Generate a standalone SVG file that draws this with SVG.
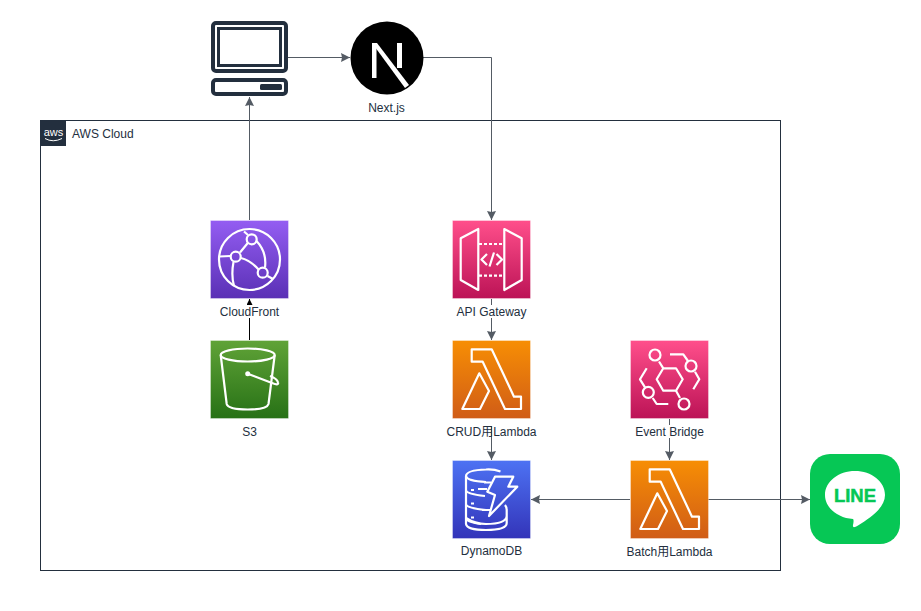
<svg xmlns="http://www.w3.org/2000/svg" xmlns:xlink="http://www.w3.org/1999/xlink" width="921" height="611" viewBox="0 0 921 611">
<style>
text{font-family:"Liberation Sans",Arial,"Noto Sans CJK JP",sans-serif;font-size:12px;fill:#232F3E;text-anchor:middle}
.ln{fill:none;stroke:#545B64;stroke-width:1}
.ic{fill:none;stroke:#fff;stroke-width:2.200;stroke-linejoin:round}
.tile{stroke:#fff;stroke-opacity:.35;stroke-width:1}
.pc{fill:none;stroke:#232F3E;stroke-width:4}
</style>
<defs>
<linearGradient id="gPurple" x1="0" y1="0" x2="0" y2="1"><stop offset="0" stop-color="#945DF2"/><stop offset="1" stop-color="#5A30B5"/></linearGradient>
<linearGradient id="gGreen" x1="0" y1="0" x2="0" y2="1"><stop offset="0" stop-color="#60A337"/><stop offset="1" stop-color="#277116"/></linearGradient>
<linearGradient id="gPink" x1="0" y1="0" x2="0" y2="1"><stop offset="0" stop-color="#FF4F8B"/><stop offset="1" stop-color="#BC1356"/></linearGradient>
<linearGradient id="gOrange" x1="0" y1="0" x2="0" y2="1"><stop offset="0" stop-color="#F78E04"/><stop offset="1" stop-color="#D05C17"/></linearGradient>
<linearGradient id="gBlue" x1="0" y1="0" x2="0" y2="1"><stop offset="0" stop-color="#4D72F3"/><stop offset="1" stop-color="#3334B9"/></linearGradient>
<marker id="arrow" viewBox="0 0 9 9" refX="9" refY="4.500" markerWidth="9" markerHeight="9" markerUnits="userSpaceOnUse" orient="auto"><path d="M0 0L9 4.500L0 9L1 4.500Z" fill="#545B64"/></marker>
<marker id="arrowB" viewBox="0 0 6 6" refX="6" refY="3" markerWidth="6" markerHeight="6" markerUnits="userSpaceOnUse" orient="auto"><path d="M0 0L6 3L0 6Z" fill="#000"/></marker>
<g id="lambdaIcon"><rect class="tile" x=".5" y=".5" width="78" height="78" fill="url(#gOrange)"/><path class="ic" d="M19.700 9.300H39.700L62 56.700H69V69H53L30.700 21.700H19.700Z"/><path class="ic" d="M27.300 33.300L37 51L28 69H10.300Z"/></g>
</defs>
<rect width="921" height="611" fill="#fff"/>

<g id="aws-cloud">
<rect x="40.500" y="120.500" width="740" height="450" fill="none" stroke="#232F3E"/>
<rect x="41" y="121" width="25" height="25" fill="#232F3E"/>
<text x="53.500" y="135.500" style="font-size:11px;fill:#fff">aws</text>
<path d="M45 138.500Q53 143 62 138.500" fill="none" stroke="#fff"/>
<text x="72" y="138" style="text-anchor:start">AWS Cloud</text>
</g>

<g id="connectors">
<path class="ln" marker-end="url(#arrow)" d="M288 57.500H350"/>
<path class="ln" marker-end="url(#arrow)" d="M423 57.500H491.500V220"/>
<path class="ln" marker-end="url(#arrow)" d="M249.500 220V97"/>
<path d="M249.500 340V299" fill="none" stroke="#000" marker-end="url(#arrowB)"/>
<path class="ln" marker-end="url(#arrow)" d="M491.500 299V340"/>
<path class="ln" marker-end="url(#arrow)" d="M491.500 426V460"/>
<path class="ln" marker-end="url(#arrow)" d="M669.500 419V460"/>
<path class="ln" marker-end="url(#arrow)" d="M630 499.500H531"/>
<path class="ln" marker-end="url(#arrow)" d="M708 499.500H810"/>
</g>

<g id="pc">
<rect class="pc" x="213" y="23" width="73" height="48" rx="3"/>
<rect x="218.500" y="28.500" width="62" height="37" fill="none" stroke="#232F3E" stroke-width="3"/>
<rect class="pc" x="213" y="80" width="73" height="14" rx="3"/>
<rect x="260" y="84" width="22" height="6" rx="1.500" fill="#232F3E"/>
</g>

<g id="nextjs">
<circle cx="387" cy="58" r="36.500" fill="#000"/>
<path d="M372 43h4.500v35H372Z M397 43h5v25h-5Z" fill="#fff"/>
<path d="M372 43h5L409 85l-4 3Z" fill="#fff"/>
<text x="386.500" y="112">Next.js</text>
</g>

<g id="cloudfront">
<rect class="tile" x="210.500" y="220.500" width="78" height="78" fill="url(#gPurple)"/>
<circle class="ic" cx="249.500" cy="259.500" r="30.500"/>
<circle class="ic" cx="251.700" cy="239.300" r="5"/>
<circle class="ic" cx="235.700" cy="256.700" r="5"/>
<circle class="ic" cx="262.700" cy="272.700" r="5"/>
<path class="ic" d="M247.800 243L240 252.500M241 258Q250 260 258.500 269.500M256.500 241Q267 252 265 267.500M233.500 262Q231 275 234 286M219.500 256.500L230.500 256M244 231.500L248 235M267.500 276L273 279"/>
<rect x="214" y="305" width="71" height="13" fill="#fff"/>
<text x="249.500" y="316">CloudFront</text>
</g>

<g id="s3">
<rect class="tile" x="210.500" y="340.500" width="78" height="78" fill="url(#gGreen)"/>
<ellipse class="ic" cx="247.700" cy="355" rx="27" ry="6.500"/>
<path class="ic" d="M220.700 355L226.700 404Q228 409.500 247.700 409.500Q267 409.500 268.500 404L274.700 355"/>
<circle cx="247.700" cy="373.700" r="2.500" fill="#fff"/>
<path class="ic" d="M247.700 373.700L272 383Q279 386 278 382.500Q277 378.500 270 376"/>
<text x="249.500" y="436">S3</text>
</g>

<g id="api-gateway">
<rect class="tile" x="452.500" y="220.500" width="78" height="78" fill="url(#gPink)"/>
<path class="ic" d="M460.700 238.300L478.300 229V290L460.700 280Z"/>
<path class="ic" d="M504.300 229L521.700 238.300V280L504.300 290Z"/>
<path class="ic" stroke-dasharray="3 2" d="M479 244H504M479 275.700H504"/>
<path class="ic" d="M487 254L481.500 259.500L487 265M496.500 254L502 259.500L496.500 265M494 252.500L489.500 266.500"/>
<rect x="455" y="305" width="73" height="13" fill="#fff"/>
<text x="491.500" y="316">API Gateway</text>
</g>

<g id="crud-lambda">
<use xlink:href="#lambdaIcon" href="#lambdaIcon" x="452" y="340"/>
<text x="491.500" y="436">CRUD用Lambda</text>
</g>

<g id="event-bridge">
<rect class="tile" x="630.500" y="340.500" width="78" height="78" fill="url(#gPink)"/>
<path class="ic" d="M656.700 379.300L663.300 368.300H676L682.700 379.300L676 390.700H663.300Z"/>
<circle class="ic" cx="655" cy="355" r="5.500"/>
<circle class="ic" cx="691" cy="366" r="5.500"/>
<circle class="ic" cx="648.300" cy="392.300" r="5.500"/>
<circle class="ic" cx="684" cy="404" r="5.500"/>
<path class="ic" d="M663.300 368.300L659 361.500M676 390.700L680 398M670 354.300H683.300L688 361M695 371.700L699.300 379.300L693.300 389.300M646.700 368.300L640 379.300L645 387.300M652.700 398L656.700 404H668.300"/>
<rect x="633" y="425" width="73" height="13" fill="#fff"/>
<text x="669.500" y="436">Event Bridge</text>
</g>

<g id="dynamodb">
<rect class="tile" x="452.500" y="460.500" width="78" height="78" fill="url(#gBlue)"/>
<path class="ic" d="M500.500 471.500Q494 469 486 469.500Q466.500 470 466 476V490Q466 494 485 496M466 476Q467 481 486 482M466 490V504Q466 508 486 510M466 504V518Q466 522 481 524M471 490H474M471 503.500H474M471 517.500H474M484 482.500H491M478 489H487"/>
<path class="ic" d="M495 476.700H513.300L508.300 486.700H517.300L489 516L495 495L487.300 491.700Z"/>
<path class="ic" d="M466 518V524Q467 530 486 530Q506.700 530 506.700 523V510Q506.700 507 505 505M466 518Q475 524 486 524Q506 524 506.700 516M482 510H490"/>
<text x="491.500" y="555">DynamoDB</text>
</g>

<g id="batch-lambda">
<use xlink:href="#lambdaIcon" href="#lambdaIcon" x="630" y="460"/>
<text x="669.500" y="556">Batch用Lambda</text>
</g>

<g id="line">
<rect x="810" y="454" width="90" height="90" rx="20" fill="#06C755"/>
<path d="M855 471C871.500 471 885 481.500 885 495C885 507 872 517 858 525.500C854.500 527.500 852.500 528 853 525C853.500 522.500 854 520 853 519C838 518 825 508 825 495C825 481.500 838.500 471 855 471Z" fill="#fff"/>
<text x="855" y="502.300" style="font-size:18.500px;font-weight:bold;fill:#06C755;stroke:#06C755;stroke-width:.5">LINE</text>
</g>
</svg>
